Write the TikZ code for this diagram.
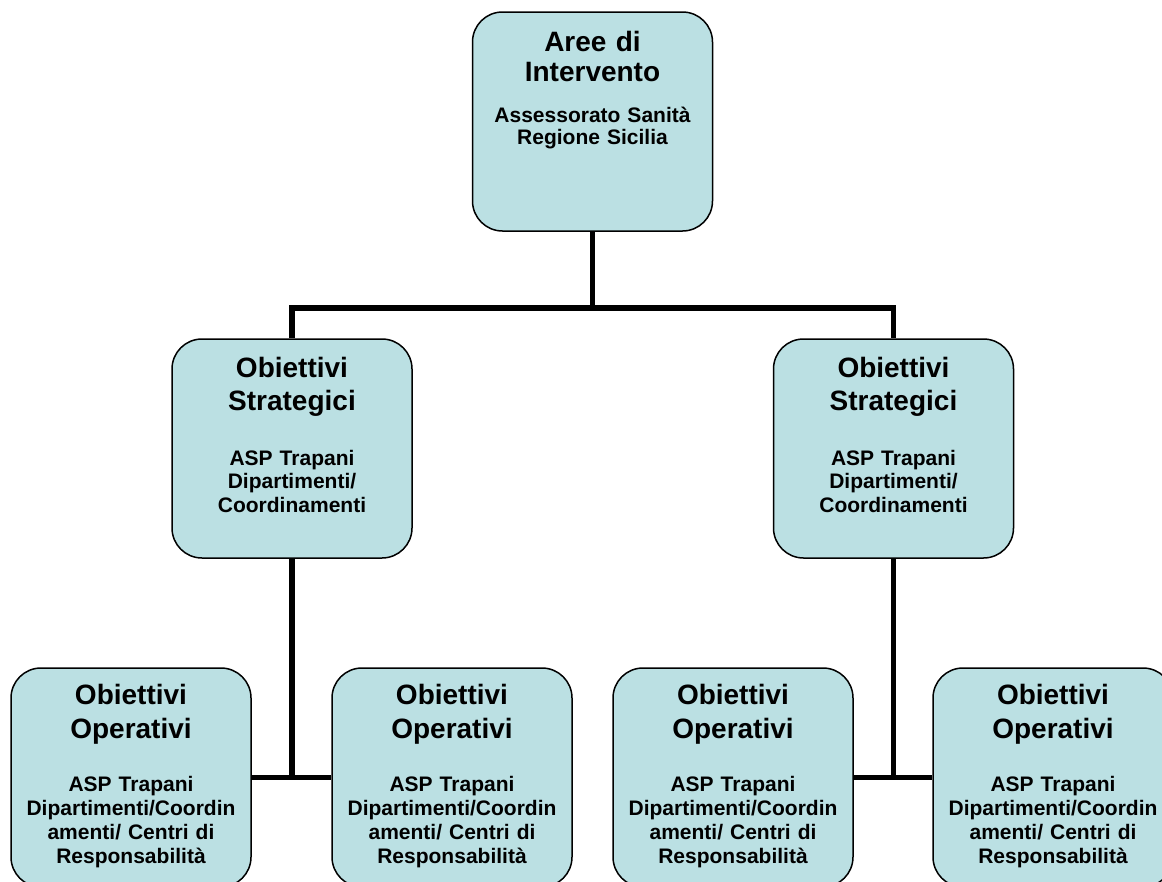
\documentclass[tikz,border=0pt]{standalone}
\usepackage{fontspec}
\setmainfont{Liberation Sans}
\definecolor{boxfill}{RGB}{187,224,227}
\tikzset{
  orgbox/.style={draw=black, line width=1.5pt, fill=boxfill, rounded corners=30pt,
    minimum width=240pt, minimum height=219pt, inner sep=0pt},
  titletext/.style={anchor=base, text width=236pt, align=center, inner sep=0pt,
    font=\bfseries\fontsize{28}{33}\selectfont},
  subtext/.style={anchor=base, text width=236pt, align=center, inner sep=0pt,
    font=\bfseries\fontsize{21}{24}\selectfont},
  link/.style={line width=5.5pt, line join=miter}
}
\begin{document}
\begin{tikzpicture}[x=1pt, y=-1pt]
\useasboundingbox (0,0) rectangle (1162,881);
\clip (0,0) rectangle (1162,881);

% boxes
\node[orgbox] (top)  at (592.5,121.5) {};
\node[orgbox] (midL) at (292,448.5) {};
\node[orgbox] (midR) at (893.5,448.5) {};
\node[orgbox] (b1) at (131,777.5) {};
\node[orgbox] (b2) at (452,777.5) {};
\node[orgbox] (b3) at (733,777.5) {};
\node[orgbox] (b4) at (1053,777.5) {};

% connectors
\coordinate (jTop) at (592.5,308);
\coordinate (jL) at (midL.south |- b1.east);
\coordinate (jR) at (midR.south |- b3.east);
\draw[link] (top.south) -- (jTop);
\draw[link] (midL.north) |- (jTop) -| (midR.north);
\draw[link] (midL.south) -- (jL);
\draw[link] (b1.east) -- (b2.west);
\draw[link] (midR.south) -- (jR);
\draw[link] (b3.east) -- (b4.west);

% texts
\node[titletext, font=\bfseries\fontsize{28}{30}\selectfont] (topT) at (592.5,51) {Aree di\\Intervento};
\node[subtext, font=\bfseries\fontsize{21}{22}\selectfont] (topS) at (592.5,122) {Assessorato Sanità\\Regione Sicilia};

\node[titletext] (midLT) at (292,377) {Obiettivi\\Strategici};
\node[subtext, font=\bfseries\fontsize{21}{23.5}\selectfont] (midLS) at (292,465) {ASP Trapani\\Dipartimenti/\\Coordinamenti};
\node[titletext] (midRT) at (893.5,377) {Obiettivi\\Strategici};
\node[subtext, font=\bfseries\fontsize{21}{23.5}\selectfont] (midRS) at (893.5,465) {ASP Trapani\\Dipartimenti/\\Coordinamenti};

\foreach \b in {b1,b2,b3,b4}{
  \node[titletext, font=\bfseries\fontsize{28}{34}\selectfont] (\b T) at ([yshift=-37pt]\b.north) {Obiettivi\\Operativi};
  \node[subtext] (\b S) at ([yshift=-124pt]\b.north) {ASP Trapani\\Dipartimenti/Coordin\\amenti/ Centri di\\Responsabilità};
}
\end{tikzpicture}
\end{document}
